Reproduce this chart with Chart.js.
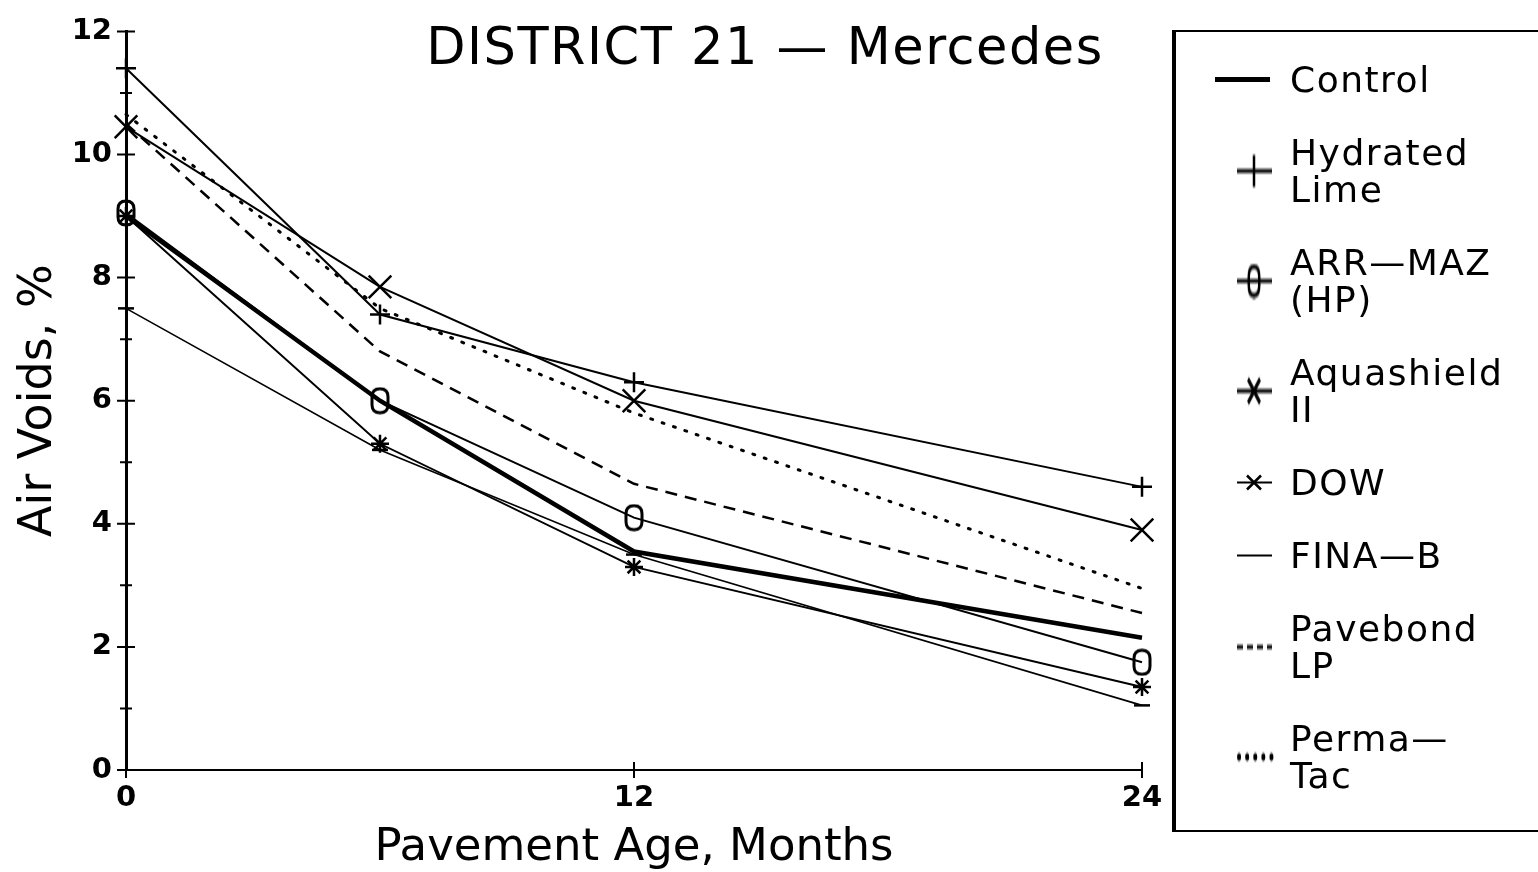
<!DOCTYPE html>
<html>
<head>
<meta charset="utf-8">
<title>DISTRICT 21 - Mercedes</title>
<script src="https://cdn.jsdelivr.net/npm/chart.js@4.4.0/dist/chart.umd.min.js"></script>
<style>
  body { margin: 0; background: #fff; font-family: 'DejaVu Sans', sans-serif; color: #000; }
  #wrap { position: relative; width: 1538px; height: 872px; overflow: hidden; }
  #title { position: absolute; left: 365px; width: 800px; top: 17px; text-align: center;
           font-size: 51px; line-height: 60px; font-weight: normal; letter-spacing: 1.5px; }
  #legend { position: absolute; left: 1172px; top: 30px; width: 420px; height: 802px;
            box-sizing: border-box; border-left: 4px solid #000; border-top: 2px solid #000;
            border-bottom: 2px solid #000; padding-top: 29px; }
  .item { display: flex; margin-bottom: 36px; }
  .item canvas { margin-left: 36px; flex: none; }
  .item .txt { margin-left: 8px; font-size: 36px; line-height: 37px; letter-spacing: 1.5px; }
</style>
</head>
<body>
<div id="wrap">
  <canvas id="chart" width="1538" height="872"></canvas>
  <div id="title">DISTRICT 21 — Mercedes</div>
  <div id="legend"></div>
</div>
<script>
// data (air voids %, by pavement age in months)
const months = [0, 6, 12, 24];
const control     = [9.0, 6.0, 3.55, 2.15];
const hydLime     = [11.4, 7.4, 6.3, 4.6];
const arrMaz      = [9.05, 6.0, 4.1, 1.75];
const aquashield  = [9.0, 5.3, 3.3, 1.35];
const dow         = [10.45, 7.85, 6.0, 3.9];
const finaB       = [7.5, 5.2, 3.5, 1.05];
const pavebond    = [10.5, 6.8, 4.65, 2.55];
const permaTac    = [10.65, 7.5, 5.8, 2.95];

const seriesLabels = ['Control', 'Hydrated\nLime', 'ARR\u2014MAZ\n(HP)', 'Aquashield\nII',
                      'DOW', 'FINA\u2014B', 'Pavebond\nLP', 'Perma\u2014\nTac'];
const xTicks = [0, 12, 24];
const yTicks = [0, 1, 2, 3, 4, 5, 6, 7, 8, 9, 10, 11, 12];

// "0" shaped marker for ARR-MAZ
function zeroMarker(w, h, lw) {
  const c = document.createElement('canvas');
  c.width = w; c.height = h;
  const g = c.getContext('2d');
  g.lineWidth = lw;
  g.strokeStyle = '#000';
  const a = lw / 2 + 0.5, b = w - a, t = lw / 2 + 0.5, bt = h - t, mx = w / 2, k = (w - 2 * a) / 2;
  g.beginPath();
  g.moveTo(a, t + k); g.quadraticCurveTo(a, t, mx, t); g.quadraticCurveTo(b, t, b, t + k);
  g.lineTo(b, bt - k); g.quadraticCurveTo(b, bt, mx, bt); g.quadraticCurveTo(a, bt, a, bt - k);
  g.closePath();
  g.stroke();
  return c;
}
const zero = zeroMarker(20, 28, 3);
const zeroSmall = zeroMarker(14, 18, 2.5);

const styles = [
  { width: 4.5, dash: [], point: false, radius: 0 },
  { width: 2, dash: [], point: 'cross', radius: 10 },
  { width: 2, dash: [], point: zero, radius: 10 },
  { width: 2, dash: [], point: 'star', radius: 9 },
  { width: 2, dash: [], point: 'crossRot', radius: 16 },
  { width: 1.6, dash: [], point: 'line', radius: 8 },
  { width: 2.5, dash: [12, 8], point: false, radius: 0 },
  { width: 3, dash: [2, 10], point: false, radius: 0 }
];
const allSeries = [control, hydLime, arrMaz, aquashield, dow, finaB, pavebond, permaTac];

const datasets = allSeries.map((vals, i) => ({
  label: seriesLabels[i].replace('\n', ' '),
  data: months.map((m, j) => ({ x: m, y: vals[j] })),
  borderColor: '#000',
  backgroundColor: '#000',
  borderWidth: styles[i].width,
  borderDash: styles[i].dash,
  borderCapStyle: i === 7 ? 'round' : 'butt',
  pointStyle: styles[i].point,
  pointRadius: styles[i].radius,
  pointBorderWidth: 2.5,
  pointBorderColor: '#000',
  pointBackgroundColor: 'rgba(0,0,0,0)',
  tension: 0,
  clip: false
}));

// tick marks crossing the axes, like the plotter drew them
const axisTicks = {
  id: 'axisTicks',
  afterDraw(chart) {
    const { ctx, scales: { x, y } } = chart;
    ctx.save();
    ctx.strokeStyle = '#000';
    ctx.lineWidth = 2;
    ctx.beginPath();
    yTicks.forEach(v => {
      const py = y.getPixelForValue(v);
      const len = v % 2 === 0 ? 9 : 6;
      ctx.moveTo(x.left - len, py); ctx.lineTo(x.left + len, py);
    });
    xTicks.forEach(v => {
      const px = x.getPixelForValue(v);
      ctx.moveTo(px, y.bottom - 8); ctx.lineTo(px, y.bottom + 8);
    });
    ctx.stroke();
    ctx.restore();
  }
};

Chart.defaults.font.family = "'DejaVu Sans', sans-serif";
Chart.defaults.color = '#000';

new Chart(document.getElementById('chart'), {
  type: 'line',
  data: { datasets: datasets },
  options: {
    responsive: false,
    animation: false,
    devicePixelRatio: 1,
    layout: { padding: { top: 24, right: 396, left: 0, bottom: 0 } },
    plugins: { legend: { display: false }, tooltip: { enabled: false }, title: { display: false } },
    scales: {
      x: {
        type: 'linear', min: 0, max: 24,
        afterBuildTicks: s => { s.ticks = xTicks.map(v => ({ value: v })); },
        afterFit: s => { s.height = 102; },
        ticks: { padding: 11, font: { size: 29, weight: 'bold' } },
        grid: { display: false, drawTicks: false },
        border: { display: true, color: '#000', width: 2 },
        title: { display: true, text: 'Pavement Age, Months', font: { size: 45, lineHeight: 1 },
                 padding: { top: 0, bottom: 1 } }
      },
      y: {
        type: 'linear', min: 0, max: 12,
        afterBuildTicks: s => { s.ticks = yTicks.map(v => ({ value: v })); },
        afterFit: s => { s.width = 126; },
        ticks: { padding: 14, font: { size: 29, weight: 'bold' },
                 callback: v => (v % 2 === 0 ? v : '') },
        grid: { display: false, drawTicks: false },
        border: { display: true, color: '#000', width: 3 },
        title: { display: true, text: 'Air Voids, %', font: { size: 46, lineHeight: 1 },
                 padding: { top: 16, bottom: 0 } }
      }
    }
  },
  plugins: [axisTicks]
});

// legend box on the right
const legend = document.getElementById('legend');
seriesLabels.forEach((name, i) => {
  const row = document.createElement('div');
  row.className = 'item';
  const c = document.createElement('canvas');
  c.width = 70; c.height = 37;
  const g = c.getContext('2d');
  const st = styles[i];
  const cy = 18.5;
  g.strokeStyle = '#000';
  g.lineWidth = i === 0 ? 5 : (i === 7 ? 4 : 2.2);
  g.setLineDash(i === 7 ? [0.1, 8] : (i === 6 ? [6, 4] : []));
  g.lineCap = i === 7 ? 'round' : 'butt';
  g.beginPath();
  if (i === 0) { g.moveTo(3, cy); g.lineTo(58, cy); }
  else if (i === 7) { g.moveTo(27, cy); g.lineTo(60, cy); }
  else { g.moveTo(25, cy); g.lineTo(60, cy); }
  g.stroke();
  g.setLineDash([]);
  g.lineCap = 'butt';
  g.lineWidth = 2.5;
  const mx = 42;
  g.beginPath();
  if (st.point === 'cross') {
    g.moveTo(mx, cy - 8); g.lineTo(mx, cy + 8);
  }
  if (st.point === 'star' || st.point === 'crossRot') {
    const d = st.point === 'star' ? 6 : 7;
    g.moveTo(mx - d, cy - d); g.lineTo(mx + d, cy + d); g.moveTo(mx - d, cy + d); g.lineTo(mx + d, cy - d);
  }
  g.stroke();
  if (st.point === zero) {
    g.fillStyle = '#fff';
    g.fillRect(mx - 6, cy - 8, 12, 16);
    g.drawImage(zeroSmall, mx - 7, cy - 9);
    g.beginPath(); g.moveTo(mx - 6, cy); g.lineTo(mx + 6, cy); g.lineWidth = 2; g.stroke();
  }
  row.appendChild(c);
  const t = document.createElement('div');
  t.className = 'txt';
  t.innerHTML = name.split('\n').join('<br>');
  row.appendChild(t);
  legend.appendChild(row);
});
</script>
</body>
</html>
